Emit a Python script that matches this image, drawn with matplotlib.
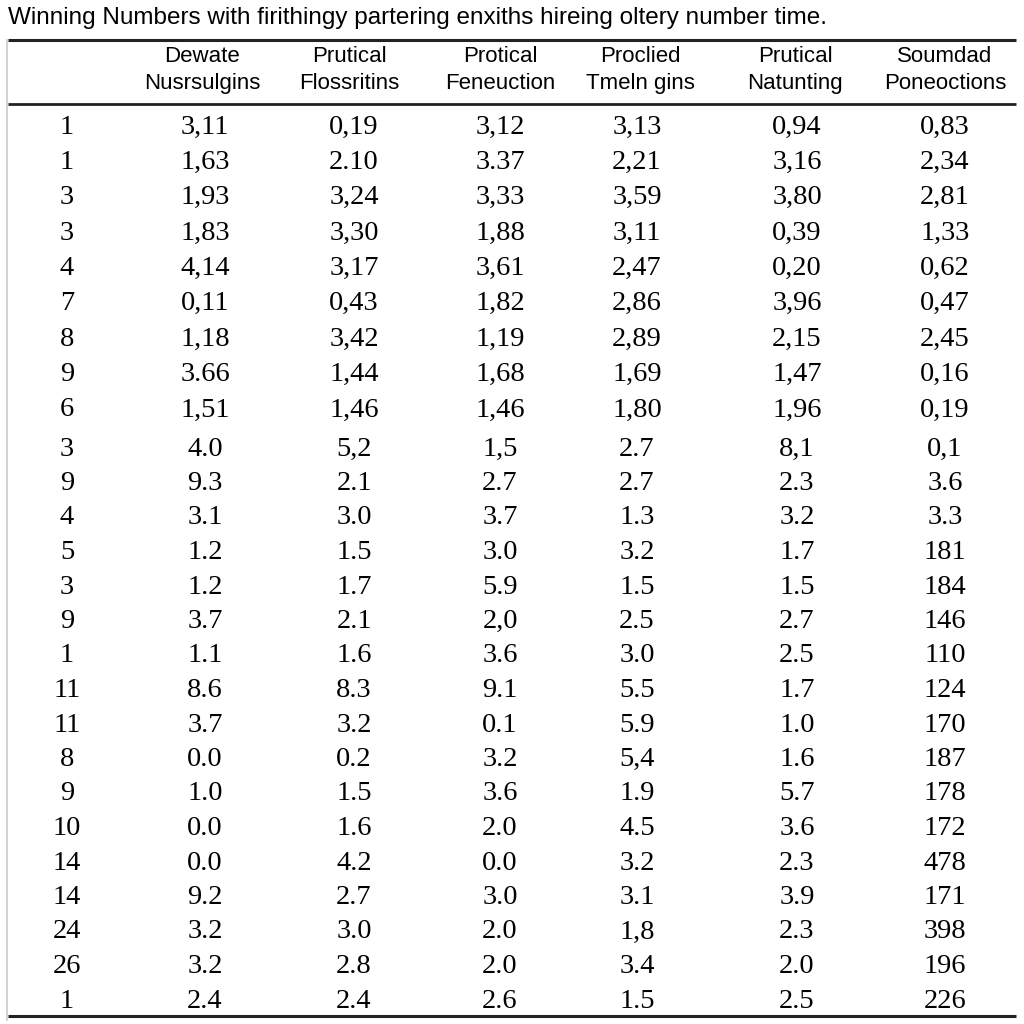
import numpy as np
import matplotlib
matplotlib.use("Agg")
import matplotlib.pyplot as plt

# table content (kept as printed text)
title = "Winning Numbers with firithingy partering enxiths hireing oltery number time."
headers = [("Dewate", "Nusrsulgins"), ("Prutical", "Flossritins"),
           ("Protical", "Feneuction"), ("Proclied", "Tmeln gins"),
           ("Prutical", "Natunting"), ("Soumdad", "Poneoctions")]

row_labels = ["1", "1", "3", "3", "4", "7", "8", "9", "6", "3", "9", "4", "5",
              "3", "9", "1", "11", "11", "8", "9", "10", "14", "14", "24", "26", "1"]
col1 = ["3,11", "1,63", "1,93", "1,83", "4,14", "0,11", "1,18", "3.66", "1,51",
        "4.0", "9.3", "3.1", "1.2", "1.2", "3.7", "1.1", "8.6", "3.7", "0.0",
        "1.0", "0.0", "0.0", "9.2", "3.2", "3.2", "2.4"]
col2 = ["0,19", "2.10", "3,24", "3,30", "3,17", "0,43", "3,42", "1,44", "1,46",
        "5,2", "2.1", "3.0", "1.5", "1.7", "2.1", "1.6", "8.3", "3.2", "0.2",
        "1.5", "1.6", "4.2", "2.7", "3.0", "2.8", "2.4"]
col3 = ["3,12", "3.37", "3,33", "1,88", "3,61", "1,82", "1,19", "1,68", "1,46",
        "1,5", "2.7", "3.7", "3.0", "5.9", "2,0", "3.6", "9.1", "0.1", "3.2",
        "3.6", "2.0", "0.0", "3.0", "2.0", "2.0", "2.6"]
col4 = ["3,13", "2,21", "3,59", "3,11", "2,47", "2,86", "2,89", "1,69", "1,80",
        "2.7", "2.7", "1.3", "3.2", "1.5", "2.5", "3.0", "5.5", "5.9", "5,4",
        "1.9", "4.5", "3.2", "3.1", "1,8", "3.4", "1.5"]
col5 = ["0,94", "3,16", "3,80", "0,39", "0,20", "3,96", "2,15", "1,47", "1,96",
        "8,1", "2.3", "3.2", "1.7", "1.5", "2.7", "2.5", "1.7", "1.0", "1.6",
        "5.7", "3.6", "2.3", "3.9", "2.3", "2.0", "2.5"]
col6 = ["0,83", "2,34", "2,81", "1,33", "0,62", "0,47", "2,45", "0,16", "0,19",
        "0,1", "3.6", "3.3", "181", "184", "146", "110", "124", "170", "187",
        "178", "172", "478", "171", "398", "196", "226"]

columns = [row_labels, col1, col2, col3, col4, col5, col6]

# layout in pixel units of the 1024x1024 canvas
col_x = [67, 205, 354, 500, 637, 797, 945]
header_x = [202, 349, 500, 640, 795, 945]
# the first block of 9 rows sits a little looser than the rest
row_y = np.concatenate([np.linspace(127, 410, 9), np.linspace(449, 1001, 17)])

fig = plt.figure(figsize=(10.24, 10.24), dpi=100)
ax = fig.add_axes([0, 0, 1, 1])
ax.set_xlim(0, 1024)
ax.set_ylim(1024, 0)
ax.axis("off")

ax.text(8, 18, title, fontsize=17.5, family="Liberation Sans",
        ha="left", va="center", color="#000000")

# rules
ax.plot([8, 1016], [40, 40], color="#222222", lw=2.2, solid_capstyle="butt")
ax.plot([8, 1016], [104, 104], color="#222222", lw=2.0, solid_capstyle="butt")
ax.plot([8, 1016], [1016, 1016], color="#222222", lw=2.2, solid_capstyle="butt")
ax.plot([7, 7], [40, 1020], color="#cccccc", lw=1.2)

for x, (h1, h2) in zip(header_x, headers):
    ax.text(x, 62, h1, fontsize=16, family="Liberation Sans",
            ha="center", va="baseline", color="#000000")
    ax.text(x, 89, h2, fontsize=16, family="Liberation Sans",
            ha="center", va="baseline", color="#000000")

for x, col in zip(col_x, columns):
    for y, val in zip(row_y, col):
        ax.text(x, y, val, fontsize=20.5, family="Liberation Serif",
                ha="center", va="center", color="#000000")

fig.savefig("out.png", dpi=100, facecolor="white")
